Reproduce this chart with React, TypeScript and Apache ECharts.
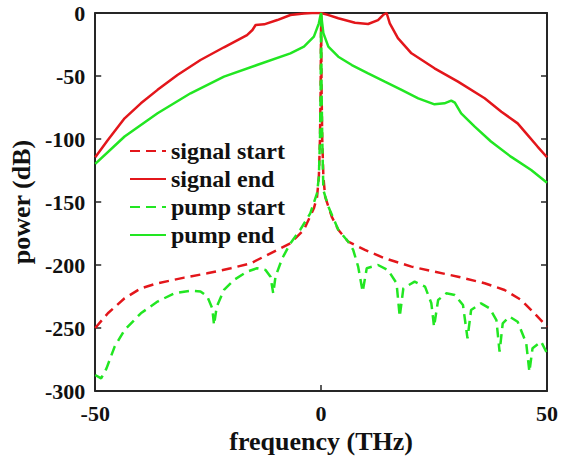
import React, { useEffect, useRef } from "react";
import * as echarts from "echarts";

// frequency (THz), power (dB)
const signalStart: [number, number][] = [
  [-50, -250], [-47.2, -238.3], [-43.5, -226.4], [-39.9, -218.5], [-36.2, -214.5],
  [-30.3, -210], [-25.2, -206.6], [-20, -202.6], [-15.6, -198.7], [-11.2, -190.7],
  [-6.8, -182.8], [-3.8, -172], [-1.6, -155], [-0.9, -146], [-0.5, -130],
  [-0.25, -100], [-0.1, -60], [0, 0], [0.1, -60], [0.25, -100], [0.5, -130],
  [0.9, -146], [2.35, -161.6], [3.8, -172], [6, -181.5], [9.7, -188],
  [14.1, -194.7], [20, -201.3], [25.1, -205.3], [30.3, -209.3], [36.2, -214.5],
  [40.6, -219.8], [44.3, -227.8], [47.2, -238.3], [50, -249],
];

const signalEnd: [number, number][] = [
  [-50, -114.5], [-47.2, -100.8], [-43.5, -83.6], [-39.9, -71.7], [-36.2, -61],
  [-31.8, -49.2], [-26.7, -37.3], [-21.5, -27.2], [-16.4, -17.5], [-15.2, -13.5],
  [-14.5, -9.5], [-12.6, -9], [-9.7, -5.6], [-6.8, -1.6], [-3.8, -0.4],
  [-2, 0], [0, 0], [1.5, -1.5], [3.8, -4.2], [7.5, -7.7], [10.4, -8.7],
  [12.6, -5.6], [13.7, -1.6], [14.5, 0], [15.2, -8.2], [17, -20], [20, -32],
  [25.1, -43.9], [30.3, -54.5], [36.2, -67.7], [39.9, -78.3], [43.5, -87.6],
  [45.4, -95.5], [47.9, -106], [50, -114.5],
];

const pumpStart: [number, number][] = [
  [-50, -287.3], [-48.7, -290], [-47.5, -282], [-45.7, -264.8], [-43.5, -251.6],
  [-39.9, -238.3], [-36.2, -229], [-32.5, -222.5], [-28.9, -220.4], [-26.7, -221],
  [-25.2, -225], [-24.1, -234.4], [-23.7, -247.6], [-23.1, -233], [-21.5, -219.8],
  [-19.3, -211.9], [-16.4, -205.3], [-14.2, -202.6], [-12.3, -204], [-11.2, -209.3],
  [-10.6, -222.5], [-10.1, -209.3], [-8.6, -194.7], [-6.8, -182.8], [-4.6, -172],
  [-2.4, -159], [-0.9, -143], [-0.5, -130], [-0.25, -100], [-0.1, -60], [0, 0],
  [0.1, -60], [0.25, -100], [0.5, -140.5], [1.6, -153.7], [3.8, -172], [6, -181.5],
  [7.1, -188], [8.2, -201.3], [9.2, -221.2], [10.1, -202.6], [12.6, -200],
  [14.8, -204], [16.7, -214.5], [17.4, -241], [18.2, -218.5], [20.7, -213.2],
  [23, -217.2], [24.4, -230.4], [25, -249], [25.9, -227.8], [27.7, -222.5],
  [29.6, -223.8], [31.4, -231.7], [32.4, -258.2], [33.2, -235.7], [35.4, -230.4],
  [37.3, -234.4], [38.8, -243.7], [39.5, -268.8], [40.2, -246.3], [41.7, -241],
  [43.5, -245], [45.4, -262], [46.1, -284.7], [46.8, -266], [48.7, -260.8], [50, -270],
];

const pumpEnd: [number, number][] = [
  [-50, -119.8], [-43.5, -98], [-36.2, -79.6], [-28.9, -63.7], [-21.5, -50.5],
  [-14.2, -41.3], [-6.8, -32], [-3.8, -26.7], [-1.6, -18.8], [-0.5, -8.2],
  [-0.2, -3], [0, 0], [0.2, -7], [0.5, -16], [1.6, -26.7], [3.8, -34.7],
  [6.8, -41.3], [10.4, -47.9], [14.1, -54.5], [17.8, -61], [21.5, -67.7],
  [25.1, -72.5], [27.3, -71.7], [28.8, -69.6], [29.6, -71.2], [31, -79.6],
  [34, -90.2], [37.6, -102], [42, -114], [46.5, -124.6], [50, -134.7],
];

const seriesNames = ["signal start", "signal end", "pump start", "pump end"];
const xTitle = "frequency (THz)";
const yTitle = "power (dB)";

const RED = "#e3161b";
const GREEN = "#22e622";
const AXIS = "#262626";
const FONT = "Liberation Serif";

export default function App() {
  const ref = useRef<HTMLDivElement>(null);
  useEffect(() => {
    if (!ref.current) return;
    const chart = echarts.init(ref.current, undefined, { renderer: "svg" });
    const axisCommon = {
      type: "value" as const,
      interval: 50,
      splitLine: { show: false },
      axisLine: { show: true, onZero: false, lineStyle: { color: AXIS, width: 2 } },
      axisTick: { show: true, inside: true, length: 6, lineStyle: { color: AXIS, width: 1.5 } },
    };
    const labelStyle = { color: "#111", fontFamily: FONT, fontWeight: "bold" as const, fontSize: 22 };
    const mk = (name: string, data: [number, number][], color: string, dashed: boolean) => ({
      name,
      type: "line" as const,
      data,
      symbol: "none",
      xAxisIndex: 0,
      yAxisIndex: 0,
      lineStyle: dashed
        ? { color, width: 2.5, type: [10, 6] as number[] }
        : { color, width: 2.5, type: "solid" as const },
      itemStyle: { color },
      z: 3,
    });
    chart.setOption({
      animation: false,
      backgroundColor: "#ffffff",
      grid: { left: 94, right: 14, top: 13, bottom: 70, containLabel: false },
      legend: {
        data: seriesNames,
        orient: "vertical",
        left: 129,
        top: 139,
        padding: 0,
        itemWidth: 36,
        itemHeight: 14,
        itemGap: 4,
        itemStyle: { opacity: 0 },
        textStyle: { fontFamily: FONT, fontWeight: "bold", fontSize: 24, color: "#111" },
      },
      xAxis: [
        {
          ...axisCommon,
          min: -50,
          max: 50,
          position: "bottom",
          name: xTitle,
          nameLocation: "middle",
          nameGap: 35,
          nameTextStyle: { ...labelStyle, fontSize: 26 },
          axisLabel: { ...labelStyle, margin: 11 },
        },
        {
          ...axisCommon,
          min: -50,
          max: 50,
          position: "top",
          axisLabel: { show: false },
        },
      ],
      yAxis: [
        {
          ...axisCommon,
          min: -300,
          max: 0,
          position: "left",
          name: yTitle,
          nameLocation: "middle",
          nameGap: 59,
          nameTextStyle: { ...labelStyle, fontSize: 26 },
          axisLabel: { ...labelStyle, margin: 10 },
        },
        {
          ...axisCommon,
          min: -300,
          max: 0,
          position: "right",
          axisLabel: { show: false },
        },
      ],
      series: [
        mk(seriesNames[0], signalStart, RED, true),
        mk(seriesNames[1], signalEnd, RED, false),
        mk(seriesNames[2], pumpStart, GREEN, true),
        mk(seriesNames[3], pumpEnd, GREEN, false),
      ],
    });
    return () => chart.dispose();
  }, []);
  return (
    <div
      ref={ref}
      style={{ position: "absolute", left: 0, top: 0, width: 561, height: 461, background: "#fff" }}
    />
  );
}
